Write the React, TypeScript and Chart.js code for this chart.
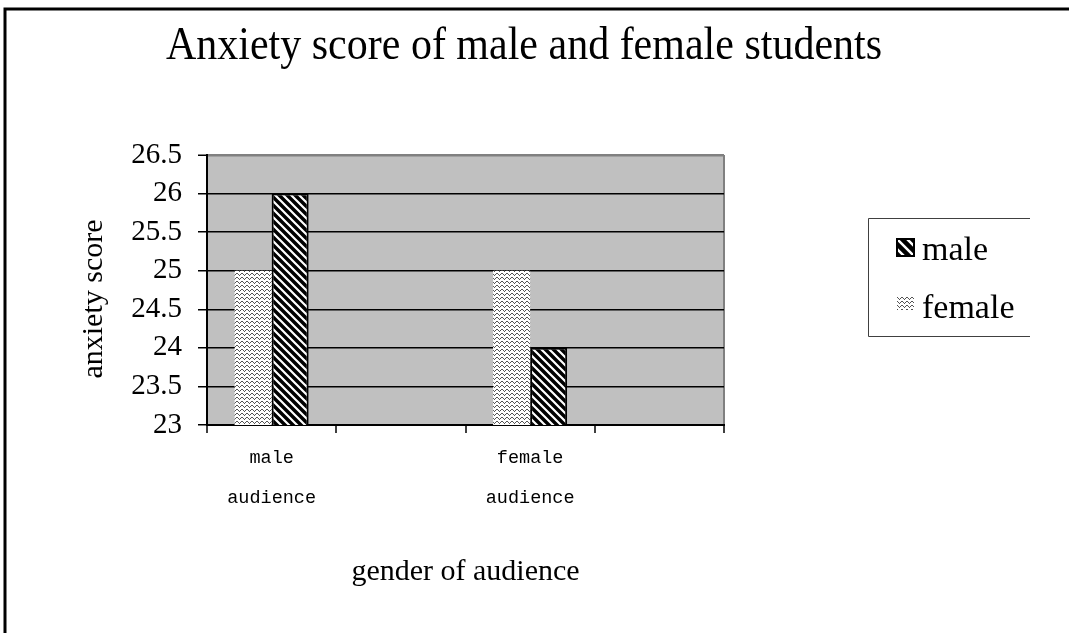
import React, { useEffect, useRef } from "react";
import { Chart, registerables } from "chart.js";

Chart.register(...registerables);

// ---- data ----
const CATEGORIES: (string | string[])[] = [["male", "audience"], "", ["female", "audience"], ""];
const FEMALE_VALUES: (number | null)[] = [25, null, 25, null];
const MALE_VALUES: (number | null)[] = [26, null, 24, null];
const Y_TICKS = [23, 23.5, 24, 24.5, 25, 25.5, 26, 26.5];
const Y_TICK_LABELS = ["23", "23.5", "24", "24.5", "25", "25.5", "26", "26.5"];
const TITLE = "Anxiety score of male and female students";
const X_TITLE = "gender of audience";
const Y_TITLE = "anxiety score";
const SERIES_FEMALE = "female";
const SERIES_MALE = "male";

const SERIF = '"Liberation Serif", "Times New Roman", serif';
const MONO = '"Liberation Mono", monospace';

function makeStripePattern(ctx: CanvasRenderingContext2D): CanvasPattern {
  const c = document.createElement("canvas");
  c.width = 8;
  c.height = 8;
  const g = c.getContext("2d")!;
  g.fillStyle = "#000";
  g.fillRect(0, 0, 8, 8);
  g.strokeStyle = "#fff";
  g.lineWidth = 2.2;
  g.beginPath();
  g.moveTo(-2, -2);
  g.lineTo(10, 10);
  g.moveTo(-2, 6);
  g.lineTo(2, 10);
  g.moveTo(6, -2);
  g.lineTo(10, 2);
  g.stroke();
  return ctx.createPattern(c, "repeat")!;
}

const WAVE_Y = [2, 1, 1, 2, 3];
function makeWavePattern(ctx: CanvasRenderingContext2D): CanvasPattern {
  const c = document.createElement("canvas");
  c.width = 10;
  c.height = 4;
  const g = c.getContext("2d")!;
  g.fillStyle = "#fff";
  g.fillRect(0, 0, 10, 4);
  g.fillStyle = "#555";
  for (let x = 0; x < 10; x++) {
    g.fillRect(x, WAVE_Y[x % 5], 1, 1);
  }
  return ctx.createPattern(c, "repeat")!;
}

export default function App() {
  const ref = useRef<HTMLCanvasElement | null>(null);

  useEffect(() => {
    const canvas = ref.current!;
    const ctx = canvas.getContext("2d")!;
    const stripe = makeStripePattern(ctx);
    const wave = makeWavePattern(ctx);

    const decor = {
      id: "decor",
      beforeDraw(chart: any) {
        const c = chart.ctx;
        const a = chart.chartArea;
        c.save();
        c.fillStyle = "#fff";
        c.fillRect(0, 0, chart.width, chart.height);
        c.fillStyle = "#C0C0C0";
        c.fillRect(a.left, a.top, a.right - a.left, a.bottom - a.top);
        c.restore();
      },
      afterDraw(chart: any) {
        const c = chart.ctx;
        const a = chart.chartArea;
        c.save();
        // title
        c.fillStyle = "#000";
        c.font = `42px ${SERIF}`;
        c.textAlign = "center";
        c.textBaseline = "alphabetic";
        c.save();
        c.translate(524, 59);
        c.scale(1, 1.12);
        c.fillText(TITLE, 0, 0);
        c.restore();

        // y axis title
        c.save();
        c.font = `30px ${SERIF}`;
        c.textAlign = "center";
        c.textBaseline = "middle";
        c.translate(94, (a.top + a.bottom) / 2 + 9);
        c.rotate(-Math.PI / 2);
        c.fillText(Y_TITLE, 0, 0);
        c.restore();

        // legend box
        c.strokeStyle = "#404040";
        c.lineWidth = 1;
        c.beginPath();
        c.moveTo(1030, 218.5);
        c.lineTo(868.5, 218.5);
        c.lineTo(868.5, 336.5);
        c.lineTo(1030, 336.5);
        c.stroke();

        // legend items: male (hatched square)
        c.fillStyle = "#000";
        c.fillRect(896, 238, 19, 19);
        c.save();
        c.beginPath();
        c.rect(898, 240, 15, 15);
        c.clip();
        c.strokeStyle = "#fff";
        c.lineWidth = 2.5;
        c.beginPath();
        c.moveTo(896, 238);
        c.lineTo(916, 258);
        c.moveTo(896, 228);
        c.lineTo(916, 248);
        c.moveTo(896, 248);
        c.lineTo(916, 268);
        c.stroke();
        c.restore();
        // female (wavy)
        c.fillStyle = wave;
        c.fillRect(897, 296, 17, 14);

        c.fillStyle = "#000";
        c.font = `34px ${SERIF}`;
        c.textAlign = "left";
        c.textBaseline = "alphabetic";
        c.fillText(SERIES_MALE, 922, 260);
        c.fillText(SERIES_FEMALE, 922, 318);

        // outer frame
        c.strokeStyle = "#000";
        c.lineWidth = 3;
        c.beginPath();
        c.moveTo(5, 633);
        c.lineTo(5, 9);
        c.lineTo(1069, 9);
        c.stroke();
        c.restore();
      },
    };

    const chart = new Chart(canvas, {
      type: "bar",
      data: {
        labels: CATEGORIES as any,
        datasets: [
          {
            label: SERIES_FEMALE,
            data: FEMALE_VALUES,
            backgroundColor: wave,
            borderWidth: 0,
            categoryPercentage: 0.573,
            barPercentage: 1,
          },
          {
            label: SERIES_MALE,
            data: MALE_VALUES,
            backgroundColor: stripe,
            borderColor: "#000",
            borderWidth: 2,
            categoryPercentage: 0.573,
            barPercentage: 1,
          },
        ],
      },
      options: {
        responsive: false,
        animation: false,
        events: [],
        layout: { padding: { left: 0, top: 155, right: 345, bottom: 0 } },
        plugins: {
          legend: { display: false },
          title: { display: false },
          tooltip: { enabled: false },
        },
        scales: {
          x: {
            type: "category",
            offset: true,
            grid: {
              offset: true,
              drawOnChartArea: true,
              color: (c: any) =>
                c.index === undefined || c.index >= CATEGORIES.length ? "#808080" : "rgba(0,0,0,0)",
              lineWidth: 2,
              tickColor: "#000",
              tickLength: 8,
              tickWidth: 1.5,
            },
            border: { display: true, color: "#000", width: 2 },
            ticks: {
              font: { family: MONO, size: 18.5, lineHeight: 40 / 18.5 },
              color: "#000",
              padding: 5,
              maxRotation: 0,
              autoSkip: false,
            },
            title: {
              display: true,
              text: X_TITLE,
              color: "#000",
              font: { family: SERIF, size: 30 },
              padding: { top: 0, bottom: 43 },
            },
            afterFit: (s: any) => {
              s.height = 208;
            },
          },
          y: {
            min: 23,
            max: 26.5,
            afterBuildTicks: (s: any) => {
              s.ticks = Y_TICKS.map((v) => ({ value: v }));
            },
            ticks: {
              callback: (v: any) => Y_TICK_LABELS[Y_TICKS.indexOf(Number(v))],
              font: { family: SERIF, size: 29 },
              color: "#000",
              padding: 16,
            },
            grid: {
              color: (c: any) => (c.tick && c.tick.value === 26.5 ? "#808080" : "#000"),
              lineWidth: (c: any) => (c.tick && c.tick.value === 26.5 ? 2.5 : 1.5),
              tickColor: "#000",
              tickLength: 9,
              tickWidth: 1.5,
            },
            border: { display: true, color: "#000", width: 2 },
            title: { display: false, text: Y_TITLE },
            afterFit: (s: any) => {
              s.width = 207;
            },
          },
        },
      },
      plugins: [decor],
    });

    return () => chart.destroy();
  }, []);

  return (
    <div style={{ position: "absolute", left: 0, top: 0, width: 1069, height: 633, background: "#fff" }}>
      <canvas ref={ref} width={1069} height={633} style={{ display: "block", width: 1069, height: 633 }} />
    </div>
  );
}
